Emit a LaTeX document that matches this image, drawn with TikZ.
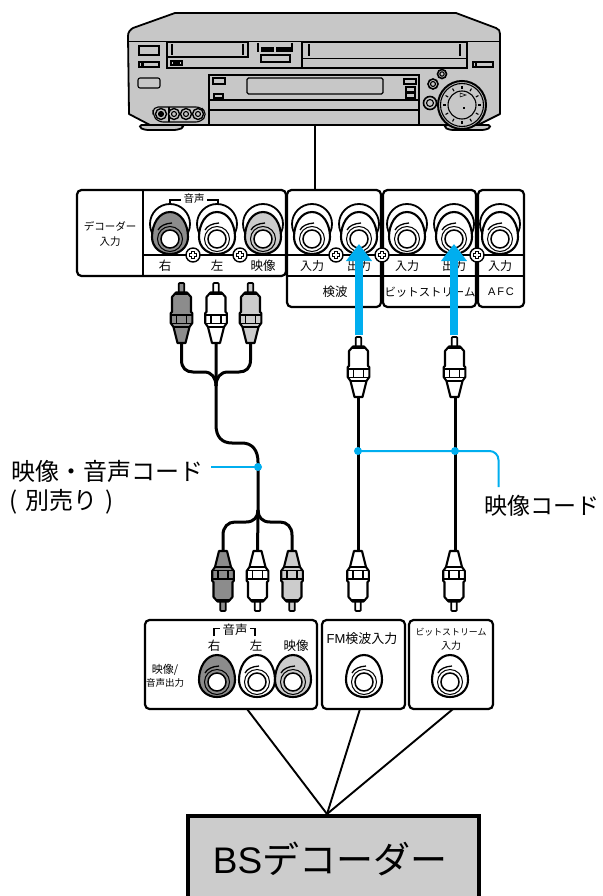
\documentclass[tikz,border=0pt]{standalone}
\usepackage{fontspec}
\setmainfont{Noto Sans CJK JP}
\newfontfamily\latinsans{Liberation Sans}
\usetikzlibrary{arrows.meta}
\definecolor{vcrgray}{gray}{0.78}
\definecolor{boxgray}{gray}{0.80}
\definecolor{darkjack}{gray}{0.55}
\definecolor{lightjack}{gray}{0.80}
\definecolor{cordblue}{HTML}{00AEEF}
\tikzset{
  ln/.style={draw=black,line width=1.1pt},
  thk/.style={draw=black,line width=1.8pt},
  panelbox/.style={draw=black,line width=2.2pt,rounded corners=4.5pt,inner sep=0pt,fill=white},
  wire/.style={draw=black,line width=3pt},
  leader/.style={draw=cordblue,line width=2pt,rounded corners=9pt},
  bluedot/.style={circle,fill=cordblue,inner sep=0pt,minimum size=8pt},
  bigarrow/.style={draw=cordblue,line width=8.5pt,-{Triangle[width=25pt,length=17pt]}},
  feed/.style={draw=black,line width=1.9pt},
  tiny/.style={font=\fontsize{10.5}{11}\selectfont,inner sep=0pt},
  small/.style={font=\fontsize{12.5}{13}\selectfont,inner sep=0pt},
  big/.style={font=\fontsize{24}{26}\selectfont,inner sep=0pt},
}
% plug: #1 x, #2 tip y, #3 yscale sign, #4 fill
\newcommand{\rcaplug}[4]{
  \begin{scope}[shift={(#1,#2)},yscale=#3,line join=round]
    \filldraw[fill=#4,draw=black,line width=1.8pt,rounded corners=1pt] (-2.8,11) -- (-2.8,1) -- (2.8,1) -- (2.8,11);
    \filldraw[fill=#4,draw=black,line width=2.1pt]
      (-5.5,10.5) -- (5.5,10.5) -- (9.5,15) -- (9.5,30) -- (10.8,31) -- (10.8,41) -- (8,45) -- (4,61) -- (-4,61) -- (-8,45) -- (-10.8,41) -- (-10.8,31) -- (-9.5,30) -- (-9.5,15) -- cycle;
    \draw[black,line width=2.2pt] (-6.5,12) -- (6.5,12);
    \draw[black,line width=1.1pt] (-10,33) -- (10,33) (-10,41.5) -- (10,41.5) (-5,33) -- (-5,41.5) (5,33) -- (5,41.5);
    \draw[black,line width=1.4pt] (-8,45) -- (8,45);
  \end{scope}
}
% jack: #1 x, #2 top y, #3 fill
\newcommand{\eggjack}[3]{
  \begin{scope}[shift={(#1,#2)}]
    \filldraw[fill=#3,draw=black,line width=2.1pt]
      (0,0) .. controls (11,0) and (18,12) .. (18,25) .. controls (18,35) and (10,42) .. (0,42)
      .. controls (-10,42) and (-18,35) .. (-18,25) .. controls (-18,12) and (-11,0) .. (0,0) -- cycle;
    \filldraw[fill=#3,draw=black,line width=1pt] (0,27) circle[radius=12.5];
    \filldraw[fill=white,draw=black,line width=1.5pt] (0,27) circle[radius=9];
    \draw[black,line width=1.3pt] (-12,18) .. controls (-10,14) and (-5,11.5) .. (2,11);
  \end{scope}
}
\newcommand{\outerjack}[3]{
  \filldraw[fill=white,draw=black,line width=1.8pt] (#1,#2+12) circle[radius=20];
  \eggjack{#1}{#2}{#3}
}
\newcommand{\screwmark}[2]{
  \filldraw[fill=white,draw=black,line width=1.4pt] (#1,#2) circle[radius=7];
  \draw[black,line width=3.8pt] (#1-4,#2) -- (#1+4,#2) (#1,#2-4) -- (#1,#2+4);
  \draw[white,line width=1.6pt] (#1-3.4,#2) -- (#1+3.4,#2) (#1,#2-3.4) -- (#1,#2+3.4);
}
\begin{document}
\begin{tikzpicture}[x=1pt,y=-1pt]
\useasboundingbox (0,0) rectangle (602,896);
\fill[white] (0,0) rectangle (602,896);

% ---------- VCR ----------
\filldraw[fill=vcrgray,draw=black,line width=1.8pt,rounded corners=1.5pt] (140,125) -- (183,125) -- (183,128) -- (176,130) -- (146,130) -- (140,128) -- cycle;
\filldraw[fill=vcrgray,draw=black,line width=1.8pt,rounded corners=1.5pt] (445,125) -- (490,125) -- (490,128) -- (484,130) -- (451,130) -- (445,128) -- cycle;
\filldraw[fill=vcrgray,draw=black,line width=1.8pt,line join=round]
  (175,13) -- (456,13) -- (496,28) .. controls (499,29) and (500,31) .. (500,34) -- (500,114) -- (478,125)
  -- (150,125) -- (129,114) -- (128,36) .. controls (128,32) and (130,30) .. (133,28) -- cycle;
\draw[ln] (128,41.5) -- (500,41.5);
\draw[thk] (139,46) rectangle (159,55);
\draw[ln] (139,62) rectangle (159,67);
\fill (141,63) rectangle (144,66);
\draw[ln,rounded corners=2pt] (138,78) rectangle (160,88);
\draw[ln] (167,42) -- (167,68) -- (302,68);
\draw[thk] (167,42) rectangle (248,57);
\draw[ln] (172,44) -- (172,55) (243,44) -- (243,55);
\draw[ln] (171,61) rectangle (182,65);
\fill (173,62) rectangle (180,64);
\draw[ln] (258,43) -- (258,52) (292,43) -- (292,52);
\draw[ln] (262,48) rectangle (273,51) (277,48) rectangle (290,51);
\fill (262,49) rectangle (273,51) (277,49) rectangle (290,51);
\draw[ln] (261,55) rectangle (290,62);
\draw[thk] (302,42) rectangle (467,68);
\draw[ln] (302,58.5) -- (467,58.5);
\draw[ln] (309,44) -- (309,56) (460,44) -- (460,56);
\draw[ln] (473,62) rectangle (493,67);
\fill (475,63) rectangle (477,66);
\draw[thk] (209,75) rectangle (419,100);
\draw[ln] (209,100) -- (209,125) (419,100) -- (419,125) (209,110) -- (419,110);
\draw[ln] (213,78) rectangle (225,84) (214,94) rectangle (223,98);
\draw[ln,rounded corners=1.5pt] (247,78) rectangle (383,94);
\draw[ln] (404,79) rectangle (416,84) (406,87) rectangle (415,92) (406,93) rectangle (415,98);
\filldraw[fill=vcrgray,draw=black,line width=1.6pt] (442,74) circle[radius=4.5];
\draw[ln] (442,74) circle[radius=2.2];
\filldraw[fill=vcrgray,draw=black,line width=1.6pt] (433,84) circle[radius=5];
\draw[ln] (433,84) circle[radius=2.5];
\filldraw[fill=vcrgray,draw=black,line width=1.6pt] (430,103) circle[radius=6.5];
\draw[ln] (430,103) circle[radius=3.5];
\filldraw[fill=vcrgray,draw=black,line width=2pt] (462,105) circle[radius=24];
\draw[ln] (462,105) circle[radius=21.5];
\draw[ln] (462,105) circle[radius=14];
\foreach \a in {0,30,...,330}{
  \draw[ln] ({462+16*cos(\a)},{105+16*sin(\a)}) -- ({462+19*cos(\a)},{105+19*sin(\a)});
}
\draw[black,line width=0.5pt] (460,93) -- (466,95) -- (460,97) -- cycle;
\fill (463,107) rectangle (465,109);
\draw[ln,rounded corners=5pt] (153,107) -- (201,107) -- (207,114) -- (201,122) -- (158,122) -- (153,115) -- cycle;
\draw[ln] (169,107) -- (169,122);
\foreach \jx in {161,174,186,198}{
  \filldraw[fill=vcrgray,draw=black,line width=1.4pt] (\jx,114) circle[radius=5.5];
  \draw[ln] (\jx,114) circle[radius=2.5];
}
\fill (161,114) circle[radius=2.5];
\coordinate (vcrout) at (315,125);

% ---------- rear panel ----------
\node[panelbox,minimum width=209pt,minimum height=86pt] (decin) at (181.5,233) {};
\node[panelbox,minimum width=94pt,minimum height=117pt] (kenpa) at (334,248.5) {};
\node[panelbox,minimum width=93pt,minimum height=117pt] (bits) at (429.5,248.5) {};
\node[panelbox,minimum width=46pt,minimum height=117pt] (afc) at (501,248.5) {};
\coordinate (paneltop) at (315,190);
\draw[feed] (vcrout) -- (kenpa.north -| paneltop);
\draw[ln,line width=1.6pt] (143,190) -- (143,276);
\draw[ln,line width=1.6pt] (143,255) -- (524,255) (287,276) -- (524,276);
\draw[ln,line width=1.4pt] (170,206) -- (170,200) -- (181,200) (207,200) -- (218,200) -- (218,206);

\outerjack{170}{212}{darkjack}
\outerjack{217}{212}{white}
\outerjack{263}{212}{lightjack}
\outerjack{312}{212}{white}
\outerjack{359}{212}{white}
\outerjack{407}{212}{white}
\outerjack{454}{212}{white}
\outerjack{500}{212}{white}
\screwmark{193}{255}
\screwmark{240}{255}
\screwmark{336}{255}
\screwmark{382}{255}
\screwmark{477}{255}

\node[tiny] (t1) at (110,226) {デコーダー};
\node[tiny] (t2) at (110,242) {入力};
\node[tiny,fill=white,inner sep=1pt] (t3) at (194,199) {音声};
\node[small] (t4) at (165,266) {右};
\node[small] (t5) at (217,266) {左};
\node[small] (t6) at (263,266) {映像};
\node[small,font=\fontsize{12}{13}\selectfont] (t7) at (312,266) {入力};
\node[small,font=\fontsize{12}{13}\selectfont] (t8) at (359,266) {出力};
\node[small,font=\fontsize{12}{13}\selectfont] (t9) at (407,266) {入力};
\node[small,font=\fontsize{12}{13}\selectfont] (t10) at (454,266) {出力};
\node[small,font=\fontsize{12}{13}\selectfont] (t11) at (500,266) {入力};
\node[small] (t12) at (335,292) {検波};
\node[small,font=\fontsize{11.4}{12}\selectfont] (t13) at (430,292) {ビットストリーム};
\node[tiny,font=\latinsans\fontsize{11}{12}\selectfont] (t14) at (501,292) {A\,F\,C};

% ---------- cables ----------
\coordinate (uA) at (181.5,340);
\coordinate (uB) at (216,340);
\coordinate (uC) at (250.5,340);
\coordinate (joinU) at (216,386);
\coordinate (joinL) at (258,510);
\coordinate (lA) at (223,555);
\coordinate (lB) at (257.5,555);
\coordinate (lC) at (292,555);
\draw[wire] (uB) -- (joinU) -- (216,425) .. controls (216,437) and (222,443) .. (232,443) -- (242,443) .. controls (252,443) and (258,450) .. (258,462) -- (joinL) -- (lB);
\draw[wire] (uA) -- (181.5,360) .. controls (181.5,368) and (186,372) .. (193,372) -- (204,372) .. controls (212,372) and (216,378) .. (joinU);
\draw[wire] (uC) -- (250.5,360) .. controls (250.5,368) and (246,372) .. (239,372) -- (228,372) .. controls (220,372) and (216,378) .. (joinU);
\draw[wire] (lA) -- (223,535) .. controls (223,527) and (228,522) .. (235,522) -- (246,522) .. controls (254,522) and (258,517) .. (joinL);
\draw[wire] (lC) -- (292,535) .. controls (292,527) and (287,522) .. (280,522) -- (270,522) .. controls (262,522) and (258,517) .. (joinL);
\coordinate (r1u) at (358,394);
\coordinate (r1l) at (358,555);
\coordinate (r2u) at (455,394);
\coordinate (r2l) at (455,555);
\draw[wire] (r1u) -- (r1l);
\draw[wire] (r2u) -- (r2l);

\rcaplug{181.5}{282}{1}{darkjack}
\rcaplug{216}{282}{1}{white}
\rcaplug{250.5}{282}{1}{lightjack}
\rcaplug{358.5}{336}{1}{white}
\rcaplug{454.5}{336}{1}{white}
\rcaplug{223}{612}{-1}{darkjack}
\rcaplug{257.5}{612}{-1}{white}
\rcaplug{292}{612}{-1}{lightjack}
\rcaplug{358}{612}{-1}{white}
\rcaplug{454}{612}{-1}{white}

% ---------- blue arrows ----------
\coordinate (a1s) at (359,335);
\coordinate (a1e) at (359,244);
\coordinate (a2s) at (454,335);
\coordinate (a2e) at (454,244);
\draw[bigarrow] (a1s) -- (a1e);
\draw[bigarrow] (a2s) -- (a2e);

% ---------- leaders ----------
\node[bluedot] (d1) at (258,467) {};
\node[bluedot] (d2) at (358,451) {};
\node[bluedot] (d3) at (455,451) {};
\coordinate (lead1) at (211,467);
\coordinate (lead2) at (498.5,487);
\draw[leader] (lead1) -- (d1.center);
\draw[leader] (d2.center) -- (d3.center) -- (498.5,451) -- (lead2);
\node[big,anchor=west] (lab1) at (11,471) {映像・音声コード};
\node[big,anchor=west] (lab2) at (9,502) {(\,\,別売り\,\,)};
\node[big,anchor=west,font=\fontsize{23}{25}\selectfont] (lab3) at (484,506) {映像コード};

% ---------- lower panels ----------
\node[panelbox,minimum width=172pt,minimum height=89pt] (outav) at (231,664.5) {};
\node[panelbox,minimum width=83pt,minimum height=89pt] (outfm) at (363.5,664.5) {};
\node[panelbox,minimum width=84pt,minimum height=89pt] (outbs) at (451,664.5) {};
\draw[ln,line width=1.8pt] (214,636) -- (214,628.5) -- (220,628.5) (250,628.5) -- (255,628.5) -- (255,636);
\node[small] (b1) at (235,630) {音声};
\node[small] (b2) at (214,646) {右};
\node[small] (b3) at (256,646) {左};
\node[small] (b4) at (296,646) {映像};
\node[font=\fontsize{11}{12}\selectfont,inner sep=0pt] (b5) at (165,670) {映像/};
\node[font=\fontsize{9.5}{10}\selectfont,inner sep=0pt] (b6) at (165,683) {音声出力};
\node[small,font=\fontsize{13}{14}\selectfont] (b7) at (362,639) {{\latinsans FM}検波入力};
\node[tiny,font=\fontsize{8.9}{10}\selectfont] (b8) at (451,632) {ビットストリーム};
\node[tiny,font=\fontsize{10}{11}\selectfont] (b9) at (451,646) {入力};
\eggjack{217}{655}{darkjack}
\eggjack{257}{655}{white}
\eggjack{293}{655}{lightjack}
\eggjack{364}{655}{white}
\eggjack{450}{655}{white}

% ---------- decoder ----------
\coordinate (f1) at (247,709);
\coordinate (f2) at (360,709);
\coordinate (f3) at (453,709);
\coordinate (fdec) at (327,814);
\draw[feed] (f1) -- (fdec);
\draw[feed] (f2) -- (fdec);
\draw[feed] (f3) -- (fdec);
\node[draw=black,line width=4pt,fill=boxgray,minimum width=291pt,minimum height=100pt,inner sep=0pt] (dec) at (333.5,866) {};
\node[font=\fontsize{37}{40}\selectfont,inner sep=0pt] (dect) at (330,859) {{\latinsans BS}デコーダー};
\end{tikzpicture}
\end{document}
